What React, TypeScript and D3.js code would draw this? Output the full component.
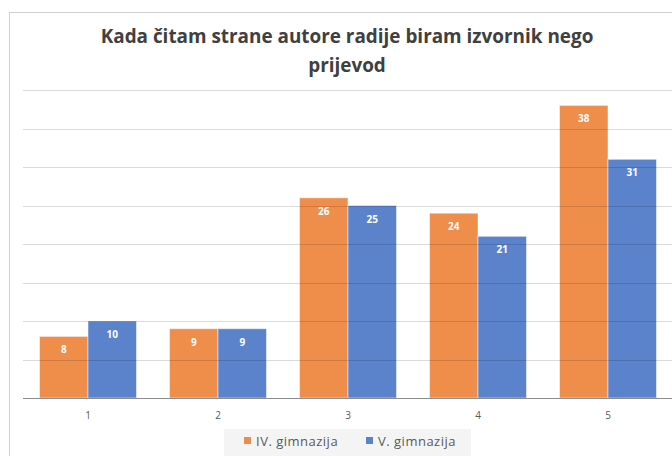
import React from "react";
import * as d3 from "d3";

const categories = ["1", "2", "3", "4", "5"];
const seriesNames = ["IV. gimnazija", "V. gimnazija"];
const seriesIV = [8, 9, 26, 24, 38];
const seriesV = [10, 9, 25, 21, 31];
const yTicks = [0, 5, 10, 15, 20, 25, 30, 35, 40];
const colors = ["#ED7D31", "#4472C4"];

const W = 672;
const H = 456;
const FONT = "'Open Sans', Lato, sans-serif";

export default function App() {
  const x0 = d3.scaleBand<string>().domain(categories).range([23, 673]).paddingInner(0.254).paddingOuter(0.127);
  const x1 = d3.scaleBand<number>().domain([0, 1]).range([0, x0.bandwidth()]);
  const y = d3.scaleLinear().domain([0, 40]).range([398, 90]);
  const series = [seriesIV, seriesV];

  return (
    <svg width={W} height={H} style={{ position: "absolute", left: 0, top: 0 }}>
      <rect x={0} y={0} width={W} height={H} fill="#fff" />
      <rect x={9.5} y={12.5} width={W} height={H} fill="#fff" stroke="#d0d0d0" />
      <text x={347} y={43} textAnchor="middle" fontFamily={FONT} fontWeight="bold" fontSize={18.9} fill="#404040">
        Kada čitam strane autore radije biram izvornik nego
      </text>
      <text x={347} y={72} textAnchor="middle" fontFamily={FONT} fontWeight="bold" fontSize={18.9} fill="#404040">
        prijevod
      </text>
      {series.map((vals, si) =>
        vals.map((v, i) => {
          const bx = (x0(categories[i]) ?? 0) + (x1(si) ?? 0);
          const by = y(v);
          return (
            <g key={`${si}-${i}`}>
              <rect x={bx} y={by} width={x1.bandwidth()} height={y(0) - by} fill={colors[si]} fillOpacity={0.88} stroke="#fff" strokeOpacity={0.5} strokeWidth={1} />
              <text x={bx + x1.bandwidth() / 2} y={by + 17} textAnchor="middle" fontFamily={FONT} fontWeight="bold" fontSize={10} fill="#fff">
                {v}
              </text>
            </g>
          );
        })
      )}
      {yTicks.slice(1).map((t) => (
        <line key={t} x1={23} x2={W} y1={Math.round(y(t)) + 0.5} y2={Math.round(y(t)) + 0.5} stroke="#000" strokeOpacity={0.14} />
      ))}
      <line x1={23} x2={W} y1={398.5} y2={398.5} stroke="#8c8c8c" strokeWidth={1.2} />
      {categories.map((c) => (
        <text key={c} x={(x0(c) ?? 0) + x0.bandwidth() / 2} y={419} textAnchor="middle" fontFamily={FONT} fontSize={10} fill="#595959">
          {c}
        </text>
      ))}
      <rect x={224} y={429} width={247} height={27} fill="#f4f4f4" />
      {seriesNames.map((n, i) => {
        const lx = i === 0 ? 244 : 366;
        return (
          <g key={n}>
            <rect x={lx} y={437} width={7} height={7} fill={colors[i]} fillOpacity={0.88} />
            <text x={lx + 12} y={446} fontFamily={FONT} fontSize={13} letterSpacing={0.5} fill="#595959">
              {n}
            </text>
          </g>
        );
      })}
    </svg>
  );
}
